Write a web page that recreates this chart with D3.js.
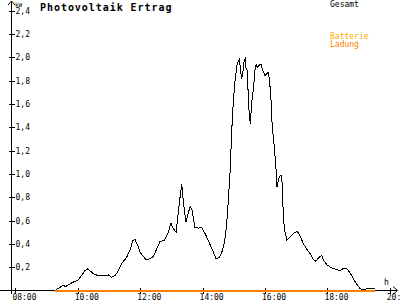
<!DOCTYPE html>
<html>
<head>
<meta charset="utf-8">
<script src="https://cdn.jsdelivr.net/npm/d3@7"></script>
<style>
  body { margin: 0; background: #fff; }
  svg { display: block; }
  text { font-family: "DejaVu Sans Mono", monospace; }
</style>
</head>
<body>
<svg width="400" height="300"></svg>
<script>
// data (time of day, kW)
var gesamtTimes = ["9:16","9:26","9:32","9:37","9:45","9:51","10:01","10:07","10:14","10:19","10:23","10:30","10:39","10:49","10:59","11:05","11:12","11:18","11:24","11:34","11:40","11:46","11:50","11:54","12:00","12:06","12:12","12:19","12:25","12:32","12:38","12:46","12:54","12:59","13:04","13:09","13:13","13:17","13:20","13:23","13:28","13:33","13:36","13:40","13:45","13:52","13:58","14:05","14:11","14:18","14:26","14:32","14:37","14:42","14:46","14:49","14:53","14:56","14:59","15:02","15:06","15:09","15:11","15:12","15:15","15:17","15:20","15:22","15:23","15:26","15:28","15:30","15:32","15:34","15:38","15:41","15:43","15:45","15:48","15:52","15:56","16:00","16:03","16:06","16:08","16:11","16:14","16:18","16:21","16:23","16:26","16:29","16:31","16:34","16:35","16:38","16:42","16:48","16:54","17:02","17:07","17:14","17:20","17:27","17:33","17:38","17:44","17:49","17:53","17:59","18:08","18:18","18:24","18:32","18:37","18:43","18:50","18:56","19:03","19:09","19:16","19:32"];
var gesamtKw = [0,0.028,0.043,0.034,0.057,0.071,0.092,0.128,0.171,0.186,0.171,0.143,0.128,0.126,0.134,0.114,0.128,0.171,0.229,0.285,0.343,0.428,0.437,0.400,0.328,0.291,0.263,0.272,0.291,0.357,0.420,0.428,0.499,0.576,0.528,0.499,0.657,0.814,0.908,0.756,0.585,0.671,0.722,0.685,0.542,0.534,0.542,0.486,0.428,0.357,0.272,0.285,0.328,0.414,0.557,0.743,1.028,1.370,1.610,1.780,1.927,1.970,1.985,1.927,1.813,1.856,1.970,1.985,1.913,1.884,1.642,1.484,1.428,1.599,1.741,1.899,1.936,1.913,1.927,1.942,1.884,1.842,1.856,1.870,1.827,1.684,1.399,1.227,1.056,0.885,0.957,0.985,0.985,0.885,0.628,0.514,0.434,0.457,0.486,0.508,0.471,0.400,0.357,0.314,0.263,0.251,0.285,0.300,0.257,0.220,0.194,0.180,0.171,0.191,0.186,0.157,0.100,0.057,0.015,0.006,0.015,0.015];
var batterieTimes = ["9:16","19:32"];
var batterieKw = [0, 0];
var hourTicks = [8, 10, 12, 14, 16, 18, 20];
var kwTicks = [0.2, 0.4, 0.6, 0.8, 1.0, 1.2, 1.4, 1.6, 1.8, 2.0, 2.2, 2.4];
var legendNames = ["Gesamt", "Batterie", "Ladung"];

function toHour(s) {
	var p = s.split(":");
	return +p[0] + (+p[1]) / 60;
}

var svg = d3.select("svg");

var x = d3.scaleLinear().domain([8, 20]).range([15.4, 389.8]);
var y = d3.scaleLinear().domain([0, 2.4]).range([290.5, 10.5]);
var axisX = 11.5;

var pad = function (n) { return n < 10 ? "0" + n : "" + n; };

// x axis
var gx = svg.append("g")
	.attr("transform", "translate(0," + y(0) + ")")
	.call(d3.axisBottom(x).tickValues(hourTicks).tickSize(3).tickPadding(1)
		.tickFormat(function (d) { return pad(d) + ":00"; }));
gx.select(".domain").remove();
gx.selectAll(".tick line").attr("y1", -3).attr("y2", 3).attr("shape-rendering", "crispEdges");
gx.selectAll(".tick text")
	.attr("text-anchor", "start").attr("x", -3.5).attr("y", 9).attr("dy", 0)
	.style("font-size", "8px").attr("fill", "#000");

// y axis
var gy = svg.append("g")
	.attr("transform", "translate(" + axisX + ",0)")
	.call(d3.axisRight(y).tickValues(kwTicks).tickSize(3).tickPadding(1)
		.tickFormat(function (d) { return d3.format(".1f")(d).replace(".", ","); }));
gy.select(".domain").remove();
gy.selectAll(".tick line").attr("x1", -3).attr("x2", 3).attr("shape-rendering", "crispEdges");
gy.selectAll(".tick text").style("font-size", "8px").attr("fill", "#000");

// axis lines with arrows
svg.append("line").attr("x1", 0).attr("x2", 397).attr("y1", y(0)).attr("y2", y(0))
	.attr("stroke", "#000").attr("shape-rendering", "crispEdges");
svg.append("line").attr("x1", axisX).attr("x2", axisX).attr("y1", 1).attr("y2", 294)
	.attr("stroke", "#000").attr("shape-rendering", "crispEdges");
svg.append("path").attr("d", "M393,286.5L397.5,290.5L393,294.5").attr("fill", "none").attr("stroke", "#000");
svg.append("path").attr("d", "M8,5L11.5,1L15,5").attr("fill", "none").attr("stroke", "#000");

svg.append("text").attr("x", 15).attr("y", 7).style("font-size", "6px").text("kW");
svg.append("text").attr("x", 384).attr("y", 285).style("font-size", "8px").text("h");

// title
svg.append("text").attr("x", 40).attr("y", 10.5)
	.style("font-size", "10px").style("font-weight", "bold").style("letter-spacing", "0.95px")
	.text("Photovoltaik Ertrag");

// legend
var legendColors = ["#000", "#ffaa00", "#ff8000"];
var legendY = [7, 39, 46.5];
legendNames.forEach(function (n, i) {
	svg.append("text").attr("x", 330).attr("y", legendY[i])
		.style("font-size", "8px").attr("fill", legendColors[i]).text(n);
});

var line = d3.line()
	.x(function (d) { return x(d[0]); })
	.y(function (d) { return y(d[1]); });

var gesamt = gesamtTimes.map(function (t, i) { return [toHour(t), gesamtKw[i]]; });
var batterie = batterieTimes.map(function (t, i) { return [toHour(t), batterieKw[i]]; });

svg.append("path").datum(gesamt)
	.attr("d", line).attr("fill", "none").attr("stroke", "#000").attr("stroke-width", 1)
	.attr("shape-rendering", "crispEdges");

svg.append("path").datum(batterie)
	.attr("d", line).attr("fill", "none").attr("stroke", "#ff8000").attr("stroke-width", 2)
	.attr("shape-rendering", "crispEdges");
</script>
</body>
</html>
